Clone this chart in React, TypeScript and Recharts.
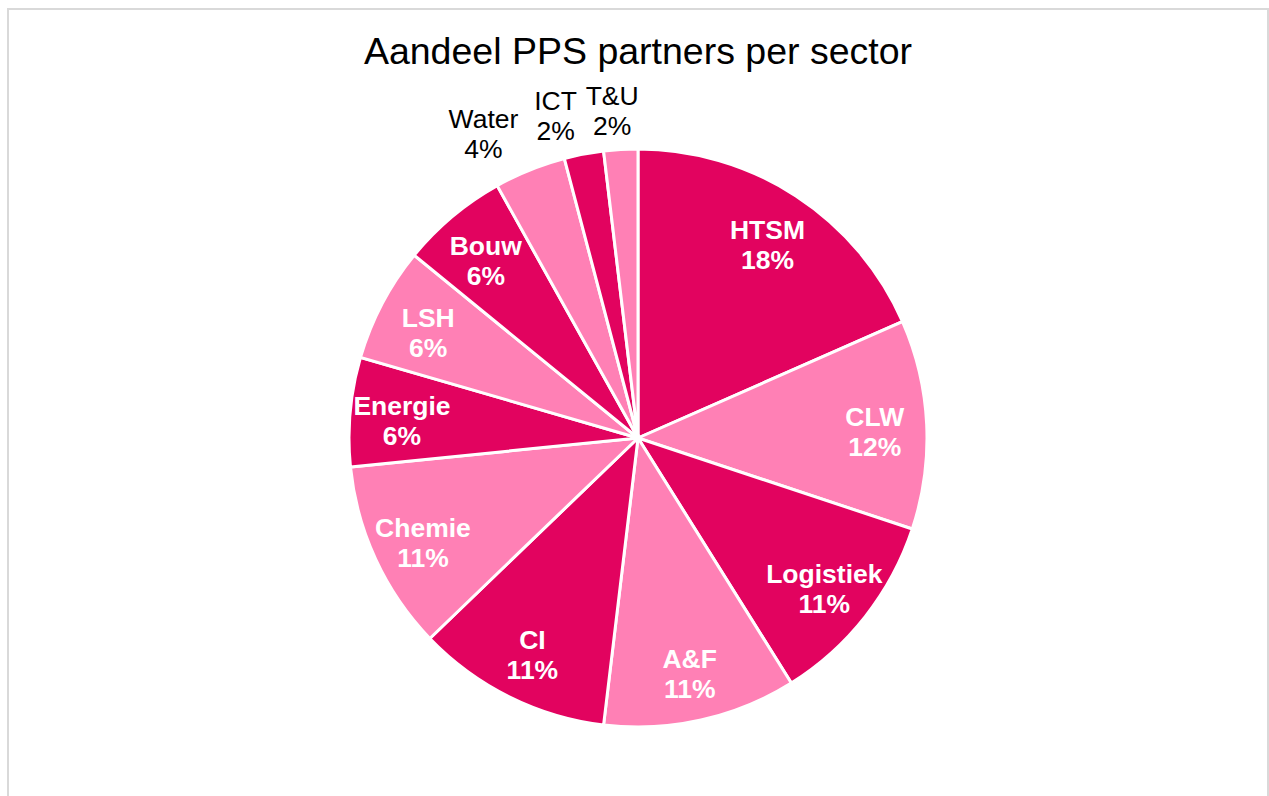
import { PieChart, Pie, Cell } from 'recharts';

const sectors = ['HTSM', 'CLW', 'Logistiek', 'A&F', 'CI', 'Chemie', 'Energie', 'LSH', 'Bouw', 'Water', 'ICT', 'T&U'];
const shares = [18.4, 11.7, 11.0, 10.8, 10.9, 10.6, 6.1, 6.4, 6.0, 4.0, 2.2, 1.9];

const data = sectors.map((name, i) => ({ name, value: shares[i] }));
const total = shares.reduce((a, b) => a + b, 0);

const DARK = '#E2035F';
const LIGHT = '#FF80B5';
const RADIAN = Math.PI / 180;

// kleine taartpunten krijgen hun label buiten de taart
const outside = ['Water', 'ICT', 'T&U'];
const nudge: Record<string, number> = { Water: -30, ICT: -20, 'T&U': -6 };

const renderLabel = (props: any) => {
  const { cx, cy, midAngle, outerRadius, index } = props;
  const item = data[index];
  const isOut = outside.includes(item.name);
  const r = isOut ? outerRadius + 44 : outerRadius * 0.82;
  const x = cx + r * Math.cos(-midAngle * RADIAN) + (isOut ? nudge[item.name] : 0);
  const y = cy + r * Math.sin(-midAngle * RADIAN) + 5;
  const pct = `${Math.round((item.value / total) * 100)}%`;
  const style = {
    fontFamily: '"Liberation Sans", Arial, sans-serif',
    fontSize: 26.5,
    fontWeight: isOut ? 400 : 700,
    fill: isOut ? '#000' : '#fff',
  };
  return (
    <g key={`lbl-${index}`}>
      <text x={x} y={y - 15} textAnchor="middle" dominantBaseline="central" style={style}>
        {item.name}
      </text>
      <text x={x} y={y + 15} textAnchor="middle" dominantBaseline="central" style={style}>
        {pct}
      </text>
    </g>
  );
};

export default function App() {
  return (
    <div style={{ position: 'absolute', left: 0, top: 0, width: 1269, height: 796, background: '#fff', overflow: 'hidden' }}>
      <div
        style={{
          position: 'absolute',
          left: 7,
          top: 8,
          width: 1258,
          height: 800,
          border: '2px solid #d9d9d9',
          borderBottom: 'none',
        }}
      />
      <div
        style={{
          position: 'absolute',
          left: 0,
          width: 1276,
          top: 30,
          textAlign: 'center',
          fontFamily: '"Liberation Sans", Arial, sans-serif',
          fontSize: 37.5,
          color: '#000',
        }}
      >
        Aandeel PPS partners per sector
      </div>
      <div style={{ position: 'absolute', left: 0, top: 0 }}>
        <PieChart width={1269} height={796} margin={{ top: 0, right: 0, bottom: 0, left: 0 }}>
          <Pie
            data={data}
            dataKey="value"
            nameKey="name"
            cx={638}
            cy={438}
            outerRadius={289}
            startAngle={90}
            endAngle={-270}
            stroke="#fff"
            strokeWidth={3}
            label={renderLabel}
            labelLine={false}
            isAnimationActive={false}
          >
            {data.map((d, i) => (
              <Cell key={d.name} fill={i % 2 === 0 ? DARK : LIGHT} />
            ))}
          </Pie>
        </PieChart>
      </div>
    </div>
  );
}
